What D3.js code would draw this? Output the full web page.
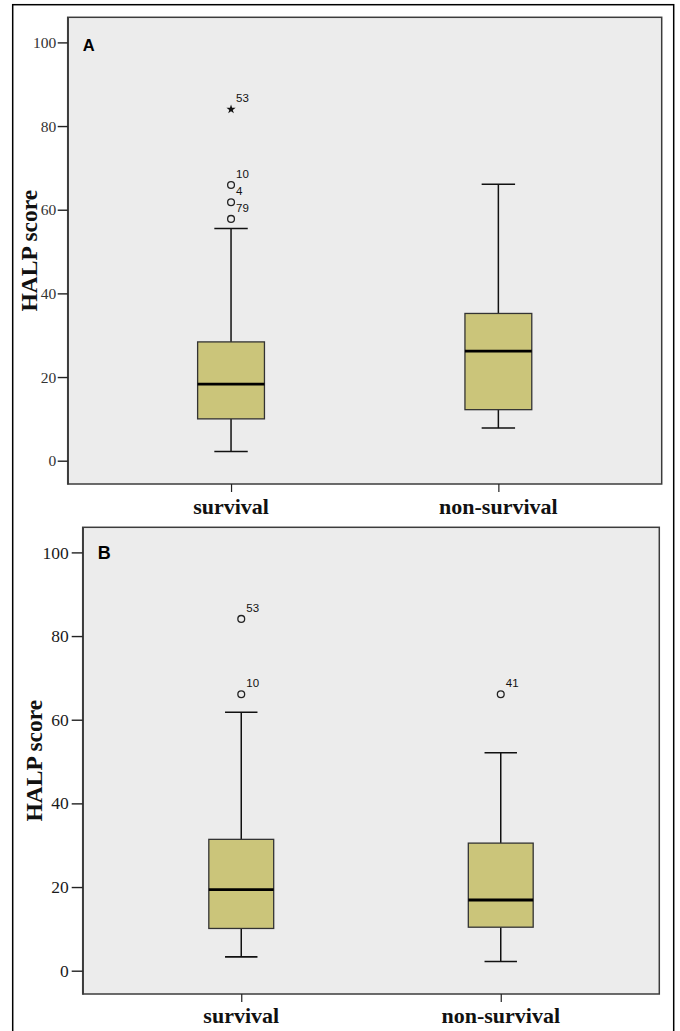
<!DOCTYPE html>
<html><head><meta charset="utf-8">
<script src="https://cdn.jsdelivr.net/npm/d3@7"></script>
<style>body{margin:0;background:#fff}svg{display:block}</style>
</head><body>
<svg id="c" width="680" height="1031"></svg>
<script>
// ---- data ----
const categories = ["survival", "non-survival"];
const yTicks = [0, 20, 40, 60, 80, 100];
const panelLabels = ["A", "B"];
// Panel A
const lowA  = [2.2, 7.8];
const q1A   = [10.0, 12.2];
const medA  = [18.3, 26.2];
const q3A   = [28.4, 35.2];
const highA = [55.5, 66.1];
const outliersA = [
  {cat: "survival", value: 84.0, label: "53", extreme: true},
  {cat: "survival", value: 65.9, label: "10", extreme: false},
  {cat: "survival", value: 61.8, label: "4",  extreme: false},
  {cat: "survival", value: 57.8, label: "79", extreme: false}
];
// Panel B
const lowB  = [3.3, 2.2];
const q1B   = [10.1, 10.4];
const medB  = [19.4, 16.9];
const q3B   = [31.4, 30.5];
const highB = [61.8, 52.1];
const outliersB = [
  {cat: "survival", value: 84.1, label: "53", extreme: false},
  {cat: "survival", value: 66.1, label: "10", extreme: false},
  {cat: "non-survival", value: 66.1, label: "41", extreme: false}
];
const yTitle = "HALP score";

// ---- drawing ----
const svg = d3.select("#c");
svg.append("rect").attr("x", 12.7).attr("y", 4.7).attr("width", 661).attr("height", 1040)
  .attr("fill", "#fff").attr("stroke", "#000").attr("stroke-width", 1.5);

const panels = [
  {label: panelLabels[0], low: lowA, q1: q1A, med: medA, q3: q3A, high: highA, out: outliersA,
   left: 67.7, top: 17.3, right: 661.7, bottom: 484, tickFont: 15.5, tickLen: 10, tickPad: 1.5,
   tickColor: "#333", titleX: 37.3, catY: 514, labelSize: 16.5},
  {label: panelLabels[1], low: lowB, q1: q1B, med: medB, q3: q3B, high: highB, out: outliersB,
   left: 82.7, top: 527.3, right: 659.3, bottom: 994, tickFont: 17.5, tickLen: 11, tickPad: 3,
   tickColor: "#1a1a1a", titleX: 41.7, catY: 1023, labelSize: 18}
];

panels.forEach(p => {
  const g = svg.append("g");
  const x = d3.scalePoint().domain(categories).range([p.left, p.right]).padding(0.611);
  const y = d3.scaleLinear().domain([-5.57, 106]).range([p.bottom, p.top]);
  const bw = x.step() * 0.25;

  g.append("rect").attr("x", p.left).attr("y", p.top)
    .attr("width", p.right - p.left).attr("height", p.bottom - p.top)
    .attr("fill", "#ececec").attr("stroke", "#3c3c3c").attr("stroke-width", 1.5);

  // y axis
  const ya = g.append("g").attr("transform", `translate(${p.left},0)`)
    .call(d3.axisLeft(y).tickValues(yTicks).tickSize(p.tickLen).tickSizeOuter(0).tickPadding(p.tickPad));
  ya.select(".domain").attr("stroke", "#3c3c3c").attr("stroke-width", 1.5);
  ya.selectAll(".tick line").attr("stroke", "#222").attr("stroke-width", 1.4);
  ya.selectAll(".tick text").attr("font-family", "Liberation Serif").attr("font-size", p.tickFont)
    .attr("fill", p.tickColor);

  // x axis ticks
  const xa = g.append("g").attr("transform", `translate(0,${p.bottom})`)
    .call(d3.axisBottom(x).tickSize(8).tickSizeOuter(0).tickFormat(""));
  xa.select(".domain").remove();
  xa.selectAll(".tick line").attr("stroke", "#222").attr("stroke-width", 1.2);

  // category labels
  g.selectAll(".cat").data(categories).join("text")
    .attr("x", d => x(d)).attr("y", p.catY).attr("text-anchor", "middle")
    .attr("font-family", "Liberation Serif").attr("font-weight", "bold").attr("font-size", 22)
    .attr("fill", "#111").text(d => d);

  // y title
  g.append("text").attr("transform", `translate(${p.titleX},${(p.top + p.bottom) / 2}) rotate(-90)`)
    .attr("text-anchor", "middle").attr("font-family", "Liberation Serif").attr("font-weight", "bold")
    .attr("font-size", 23.5).attr("fill", "#111").text(yTitle);

  // panel label
  g.append("text").attr("x", p.left + 15).attr("y", p.top + (p.label === "A" ? 33.7 : 31.7))
    .attr("font-family", "Liberation Sans").attr("font-weight", "bold").attr("font-size", p.labelSize)
    .attr("fill", "#000").text(p.label);

  // boxes
  categories.forEach((c, i) => {
    const cx = x(c);
    g.append("line").attr("x1", cx).attr("x2", cx).attr("y1", y(p.q3[i])).attr("y2", y(p.high[i]))
      .attr("stroke", "#111").attr("stroke-width", 1.5);
    g.append("line").attr("x1", cx).attr("x2", cx).attr("y1", y(p.q1[i])).attr("y2", y(p.low[i]))
      .attr("stroke", "#111").attr("stroke-width", 1.5);
    [p.high[i], p.low[i]].forEach(v => {
      g.append("line").attr("x1", cx - bw / 4).attr("x2", cx + bw / 4).attr("y1", y(v)).attr("y2", y(v))
        .attr("stroke", "#111").attr("stroke-width", 1.6);
    });
    g.append("rect").attr("x", cx - bw / 2).attr("y", y(p.q3[i]))
      .attr("width", bw).attr("height", y(p.q1[i]) - y(p.q3[i]))
      .attr("fill", "#cbc57a").attr("stroke", "#333").attr("stroke-width", 1.3);
    g.append("line").attr("x1", cx - bw / 2).attr("x2", cx + bw / 2).attr("y1", y(p.med[i])).attr("y2", y(p.med[i]))
      .attr("stroke", "#000").attr("stroke-width", 2.8);
  });

  // outliers
  p.out.forEach(o => {
    const cx = x(o.cat), cy = y(o.value);
    if (o.extreme) {
      g.append("path").attr("d", d3.symbol(d3.symbolStar, 26)()).attr("transform", `translate(${cx},${cy})`)
        .attr("fill", "#111");
    } else {
      g.append("circle").attr("cx", cx).attr("cy", cy).attr("r", 3.4)
        .attr("fill", "none").attr("stroke", "#222").attr("stroke-width", 1.3);
    }
    g.append("text").attr("x", cx + 5).attr("y", cy - 7).attr("font-family", "Liberation Sans")
      .attr("font-size", 11.5).attr("fill", "#111").text(o.label);
  });
});
</script>
</body></html>
